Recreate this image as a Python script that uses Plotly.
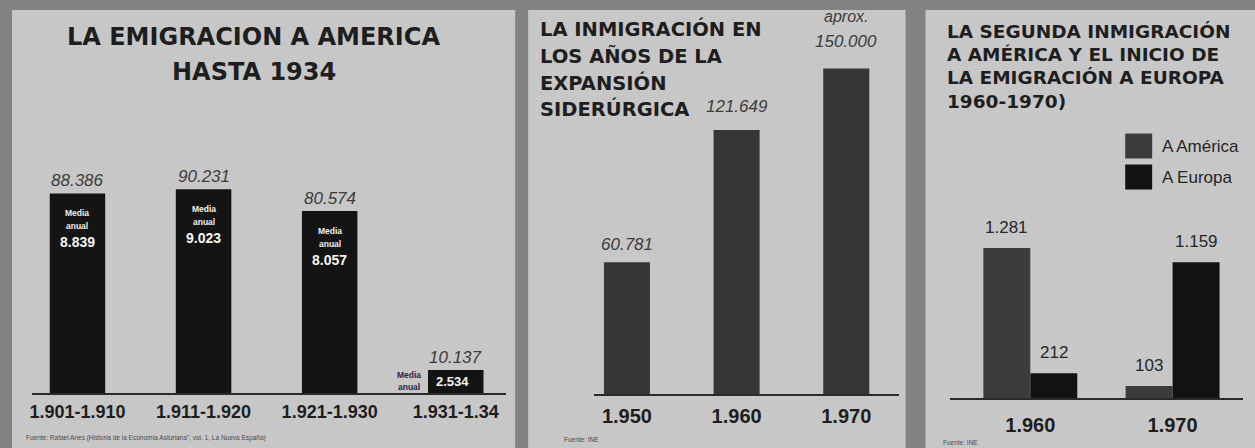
import plotly.graph_objects as go

# ---------------- data ----------------
cats1 = ["1.901-1.910", "1.911-1.920", "1.921-1.930", "1.931-1.34"]
totals1 = [88386, 90231, 80574, 10137]
media1 = [8839, 9023, 8057, 2534]

cats2 = ["1.950", "1.960", "1.970"]
vals2 = [60781, 121649, 150000]
notes2 = ["", "", "aprox."]

cats3 = ["1.960", "1.970"]
america3 = [1281, 103]
europa3 = [212, 1159]
series3 = ["A América", "A Europa"]

title1 = ["LA EMIGRACION A AMERICA", "HASTA 1934"]
title2 = ["LA INMIGRACIÓN EN", "LOS AÑOS DE LA", "EXPANSIÓN", "SIDERÚRGICA"]
title3 = ["LA SEGUNDA INMIGRACIÓN", "A AMÉRICA Y EL INICIO DE", "LA EMIGRACIÓN A EUROPA", "1960-1970)"]
source1 = "Fuente: Rafael Anes (Historia de la Economía Asturiana\", vol. 1, La Nueva España)"
source2 = "Fuente: INE"
source3 = "Fuente: INE"


def fmt(v):
    return f"{v:,}".replace(",", ".")


W, H = 1255, 448


def px(p):
    return p / W


def py(p):
    return 1 - p / H


OUTER = "#828282"
PANEL = "#c7c7c7"
INK = "#1e1e1e"
LABEL = "#3c3c3c"
SANS = "Liberation Sans, Arial, sans-serif"
WIDE = "DejaVu Sans, sans-serif"

fig = go.Figure()

# ---- panel 1 ----
fig.add_trace(go.Bar(x=cats1, y=totals1, width=0.44, marker=dict(color="#141414", line=dict(width=0)),
                     xaxis="x", yaxis="y", showlegend=False, hoverinfo="x+y"))
# ---- panel 2 ----
fig.add_trace(go.Bar(x=cats2, y=vals2, width=0.42, marker=dict(color="#363636", line=dict(width=0)),
                     xaxis="x2", yaxis="y2", showlegend=False, hoverinfo="x+y"))
# ---- panel 3 ----
bw3 = 0.33
fig.add_trace(go.Bar(x=cats3, y=america3, name=series3[0], width=bw3, offset=-bw3,
                     marker=dict(color="#3c3c3c", line=dict(width=0)),
                     xaxis="x3", yaxis="y3", showlegend=False))
fig.add_trace(go.Bar(x=cats3, y=europa3, name=series3[1], width=bw3, offset=0,
                     marker=dict(color="#121212", line=dict(width=0)),
                     xaxis="x3", yaxis="y3", showlegend=False))

ann = []
shapes = []

# panel backgrounds
for x0, x1 in [(10, 514), (527, 905), (925, 1262)]:
    shapes.append(dict(type="rect", xref="paper", yref="paper", x0=px(x0), x1=px(x1),
                       y0=py(452), y1=py(10), fillcolor=PANEL, line=dict(width=0), layer="below"))

# titles
for i, t in enumerate(title1):
    ann.append(dict(text=f"<b>{t}</b>", x=px(252), y=py([37, 72][i]), xref="paper", yref="paper",
                    xanchor="center", yanchor="middle", showarrow=False,
                    font=dict(family=WIDE, size=24, color=INK)))
for i, t in enumerate(title2):
    ann.append(dict(text=f"<b>{t}</b>", x=px(537), y=py([29, 56, 83, 109][i]), xref="paper", yref="paper",
                    xanchor="left", yanchor="middle", showarrow=False,
                    font=dict(family=WIDE, size=19.5, color=INK)))
for i, t in enumerate(title3):
    ann.append(dict(text=f"<b>{t}</b>", x=px(945), y=py([31, 55, 78, 101][i]), xref="paper", yref="paper",
                    xanchor="left", yanchor="middle", showarrow=False,
                    font=dict(family=WIDE, size=18.5, color=INK)))

# panel 1 value labels
for i, (v, m) in enumerate(zip(totals1, media1)):
    ann.append(dict(text=fmt(v), x=i, y=v, xref="x", yref="y", xanchor="center", yanchor="bottom",
                    yshift=1, showarrow=False,
                    font=dict(family=SANS, size=17, color=LABEL, style="italic")))
# media anual inside bars (first three)
for i, (v, m) in list(enumerate(zip(totals1, media1)))[:3]:
    ann.append(dict(text="<b>Media</b>", x=i, y=v, xref="x", yref="y", xanchor="center", yanchor="middle",
                    yshift=-20, showarrow=False, font=dict(family=SANS, size=8.5, color="#f0f0f0")))
    ann.append(dict(text="<b>anual</b>", x=i, y=v, xref="x", yref="y", xanchor="center", yanchor="middle",
                    yshift=-33, showarrow=False, font=dict(family=SANS, size=8.5, color="#f0f0f0")))
    ann.append(dict(text=f"<b>{fmt(m)}</b>", x=i, y=v, xref="x", yref="y", xanchor="center", yanchor="middle",
                    yshift=-49, showarrow=False, font=dict(family=SANS, size=14, color="#f4f4f4")))
# last bar
i, v, m = 3, totals1[3], media1[3]
ann.append(dict(text=f"<b>{fmt(m)}</b>", x=i, y=v / 2, xref="x", yref="y", xanchor="center", yanchor="middle",
                xshift=-3, showarrow=False, font=dict(family=SANS, size=13, color="#f4f4f4")))
ann.append(dict(text="<b>Media</b>", x=i, y=v / 2, xref="x", yref="y", xanchor="center", yanchor="middle",
                xshift=-47, yshift=7, showarrow=False, font=dict(family=SANS, size=8.5, color="#26264e")))
ann.append(dict(text="<b>anual</b>", x=i, y=v / 2, xref="x", yref="y", xanchor="center", yanchor="middle",
                xshift=-47, yshift=-5, showarrow=False, font=dict(family=SANS, size=8.5, color="#26264e")))

# panel 2 value labels
shift2 = [6, 12, 16]
for i, (v, n, s) in enumerate(zip(vals2, notes2, shift2)):
    ann.append(dict(text=fmt(v), x=i, y=v, xref="x2", yref="y2", xanchor="center", yanchor="bottom",
                    yshift=s, showarrow=False,
                    font=dict(family=SANS, size=17, color=LABEL, style="italic")))
    if n:
        ann.append(dict(text=n, x=i, y=v, xref="x2", yref="y2", xanchor="center", yanchor="bottom",
                        yshift=s + 26, showarrow=False,
                        font=dict(family=SANS, size=16, color=LABEL, style="italic")))

# panel 3 value labels
for i in range(len(cats3)):
    for v, off in [(america3[i], -bw3 / 2), (europa3[i], bw3 / 2)]:
        ann.append(dict(text=fmt(v), x=i + off, y=v, xref="x3", yref="y3", xanchor="center", yanchor="bottom",
                        yshift=9, showarrow=False, font=dict(family=SANS, size=17, color="#262626")))

# legend (panel 3)
for name, col, yc in [(series3[0], "#3c3c3c", 146), (series3[1], "#121212", 177)]:
    shapes.append(dict(type="rect", xref="paper", yref="paper", x0=px(1125), x1=px(1152),
                       y0=py(yc + 12.5), y1=py(yc - 12.5), fillcolor=col, line=dict(width=0)))
    ann.append(dict(text=name, x=px(1160), y=py(yc), xref="paper", yref="paper", xanchor="left",
                    yanchor="middle", showarrow=False, font=dict(family=SANS, size=17, color="#262626")))

# sources
for t, x, y in [(source1, 22, 438), (source2, 561, 439), (source3, 940, 442)]:
    ann.append(dict(text=t, x=px(x), y=py(y), xref="paper", yref="paper", xanchor="left", yanchor="middle",
                    showarrow=False, font=dict(family=SANS, size=6.5, color="#4a4a4a")))

axis_common = dict(type="category", showline=True, linecolor="#2a2a2a", linewidth=2, showgrid=False,
                   zeroline=False, ticks="", fixedrange=True)
yax_common = dict(visible=False, showgrid=False, zeroline=False, fixedrange=True)

fig.update_layout(
    width=W, height=H,
    margin=dict(l=0, r=0, t=0, b=0),
    paper_bgcolor=OUTER, plot_bgcolor="rgba(0,0,0,0)",
    barmode="overlay",
    xaxis=dict(axis_common, domain=[px(30), px(505)], range=[-0.361, 3.40], anchor="y",
               tickfont=dict(family=SANS, size=18, color=INK, weight="bold"), ticklabelstandoff=1),
    yaxis=dict(yax_common, domain=[py(393), py(160)], range=[0, 233 * 443], anchor="x"),
    xaxis2=dict(axis_common, domain=[px(593), px(898)], range=[-0.3, 2.477], anchor="y2",
                tickfont=dict(family=SANS, size=20, color=INK, weight="bold"), ticklabelstandoff=3),
    yaxis2=dict(yax_common, domain=[py(394), py(60)], range=[0, 334 * 461], anchor="x2"),
    xaxis3=dict(axis_common, domain=[px(950), px(1243)], range=[-0.561, 1.495], anchor="y3",
                tickfont=dict(family=SANS, size=20, color=INK, weight="bold"), ticklabelstandoff=8),
    yaxis3=dict(yax_common, domain=[py(398), py(200)], range=[0, 198 * 8.54], anchor="x3"),
    annotations=ann,
    shapes=shapes,
)

fig.write_html("out.html", config={"displayModeBar": False},
               post_script="document.body.style.margin='0';document.body.style.overflow='hidden';")
